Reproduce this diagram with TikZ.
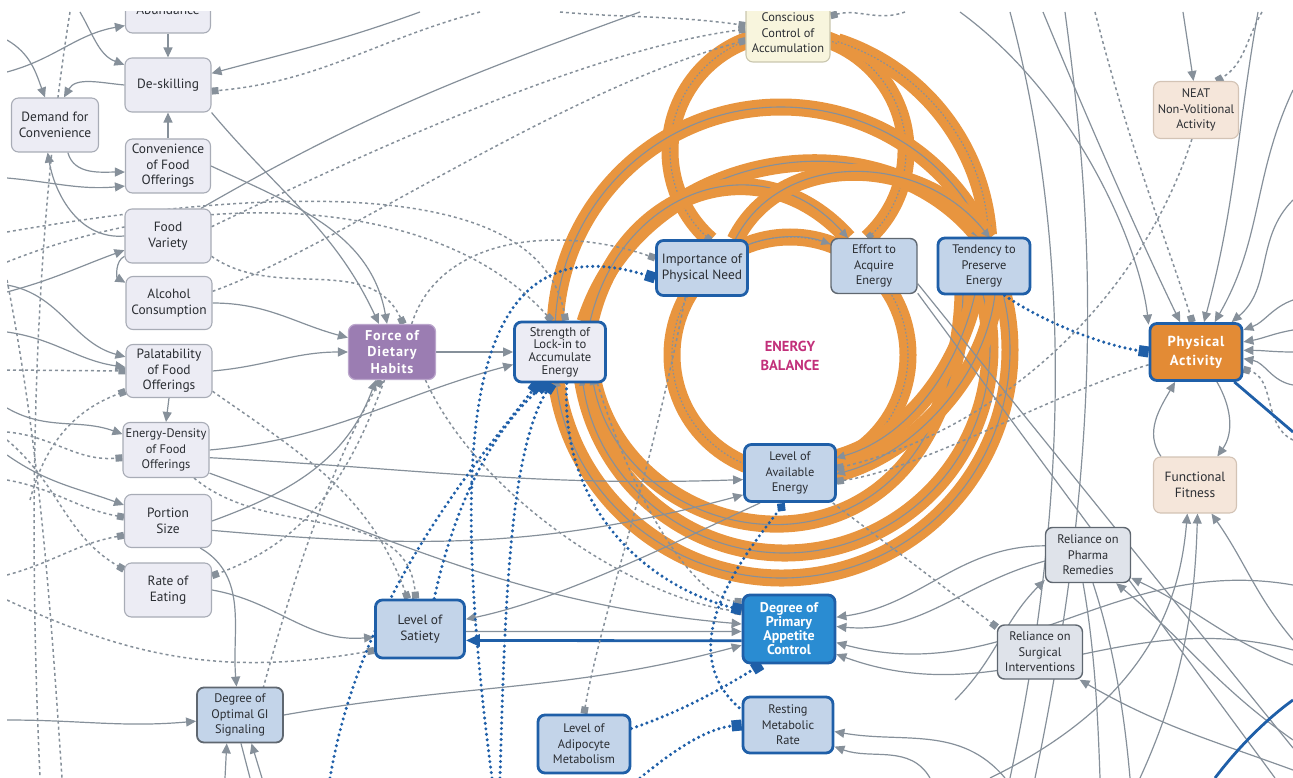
\documentclass[tikz,border=0pt]{standalone}
\usepackage{fontspec}
\setmainfont{PT Sans}
\usetikzlibrary{arrows.meta,calc}
\pgfdeclarelayer{bandlayer}
\pgfdeclarelayer{connlayer}
\pgfsetlayers{bandlayer,connlayer,main}
\definecolor{cgray}{HTML}{86909A}
\definecolor{dgray}{HTML}{5F6770}
\definecolor{cblue}{HTML}{1F5FA8}
\definecolor{corange}{HTML}{E8953F}
\definecolor{lblue}{HTML}{C3D4E9}
\definecolor{lav}{HTML}{ECECF4}
\definecolor{lavb}{HTML}{A8ACB6}
\definecolor{purp}{HTML}{9B7DB2}
\definecolor{purpb}{HTML}{BBA6CC}
\definecolor{appb}{HTML}{2A8CD2}
\definecolor{porange}{HTML}{E38B35}
\definecolor{cream}{HTML}{F8F5DD}
\definecolor{creamb}{HTML}{C9C6AE}
\definecolor{peach}{HTML}{F5E6DA}
\definecolor{peachb}{HTML}{D3C3B5}
\definecolor{relg}{HTML}{DFE3EA}
\definecolor{magen}{HTML}{C2307A}
\definecolor{txt}{HTML}{2A2D32}
\newcommand\nf{\fontsize{13.4}{15.4}\selectfont}
\newcommand\nfn{\fontsize{12.4}{15.4}\selectfont}
\newcommand\nfs{\fontsize{12.6}{12.6}\selectfont}
\newcommand\nfb{\addfontfeature{LetterSpace=6}\bfseries\fontsize{14.2}{16.5}\selectfont}
\newcommand\nfbs{\bfseries\fontsize{14}{14}\selectfont}
\newcommand\orflow[2]{\draw[band] #2; \draw[bline,#1] #2;}
\tikzset{
 box/.style={rounded corners=7pt, align=center, inner sep=1pt, font=\nf, text=txt},
 sz/.style 2 args={minimum width=#1, minimum height=#2},
 lbox/.style={box, fill=lav, draw=lavb, line width=1.1pt},
 bbox/.style={box, fill=lblue, draw=cblue, line width=2.8pt},
 gbox/.style={box, fill=lblue, draw=dgray, line width=1.4pt},
 fbox/.style={box, fill=purp, draw=purpb, line width=1.2pt, font=\nfb, text=white},
 abox/.style={box, fill=appb, draw=cblue, line width=2.8pt, font=\nfbs, text=white},
 pbox/.style={box, fill=porange, draw=cblue, line width=2.8pt, font=\nfb, text=white},
 cbox/.style={box, fill=cream, draw=creamb, line width=1.1pt},
 kbox/.style={box, fill=peach, draw=peachb, line width=1.1pt},
 rbox/.style={box, fill=relg, draw=dgray, line width=1.4pt},
 arr/.style={draw=cgray, line width=1.2pt, -{Triangle[length=10pt,width=9pt]}},
 ln/.style={draw=cgray, line width=1.2pt},
 dsh/.style={draw=cgray, line width=1.5pt, dash pattern=on 3pt off 3pt, -{Square[length=7pt,width=7pt]}},
 dln/.style={draw=cgray, line width=1.5pt, dash pattern=on 3pt off 3pt},
 bdot/.style={draw=cblue, line width=3.4pt, dash pattern=on 0pt off 5.5pt, line cap=round, -{Square[length=10pt,width=11pt]}},
 bsolid/.style={draw=cblue, line width=2.8pt},
 band/.style={draw=corange, line width=17pt},
 bline/.style={draw=cgray, line width=1.1pt},
 tri/.style={-{Triangle[length=9pt,width=8pt]}},
 rtri/.style={{Triangle[length=9pt,width=8pt]}-},
 dots/.style={dash pattern=on 1.6pt off 2pt},
}
\begin{document}
\begin{tikzpicture}[x=1pt,y=1pt]
\useasboundingbox (0,0) rectangle (1293,-778);
% ---------------- nodes ----------------
\begin{scope}
\clip (7,-12) rectangle (1293,-778);
\node[lbox,sz={85}{46}] (abund) at (168,-10) {Abundance};
\node[lbox,sz={86}{54}] (deskill) at (168,-85) {De-skilling};
\node[lbox,sz={87}{54}] (demand) at (55,-125) {Demand for\\Convenience};
\node[lbox,sz={85}{54}] (conven) at (168,-166) {Convenience\\of Food\\Offerings};
\node[lbox,sz={86}{54}] (variety) at (168,-236) {Food\\Variety};
\node[lbox,sz={86}{53}] (alcohol) at (169,-303) {Alcohol\\Consumption};
\node[lbox,sz={86}{53}] (palat) at (169,-371) {Palatability\\of Food\\Offerings};
\node[lbox,sz={86}{55},font=\nfn] (edens) at (166,-450) {Energy-Density\\of Food\\Offerings};
\node[lbox,sz={87}{53}] (portion) at (168,-521) {Portion\\Size};
\node[lbox,sz={87}{54}] (rate) at (168,-590) {Rate of\\Eating};
\node[gbox,sz={86}{55},line width=1.8pt,font=\nfn] (gi) at (240,-715) {Degree of\\Optimal GI\\Signaling};
\node[fbox,sz={87}{55}] (force) at (392,-352) {Force of\\Dietary\\Habits};
\node[bbox,fill=lav,sz={91}{60},font=\nfs] (lockin) at (560,-352) {Strength of\\Lock-in to\\Accumulate\\Energy};
\node[cbox,sz={84}{58},font=\nfn] (conscious) at (788,-33) {Conscious\\Control of\\Accumulation};
\node[bbox,sz={91}{55}] (importance) at (702,-268) {Importance of\\Physical Need};
\node[gbox,sz={86}{55},font=\nfn] (effort) at (874,-266) {Effort to\\Acquire\\Energy};
\node[bbox,sz={92}{56},font=\nfn] (tendency) at (984,-266) {Tendency to\\Preserve\\Energy};
\node[kbox,sz={85}{57},font=\nfn] (neat) at (1196,-110) {NEAT\\Non-Volitional\\Activity};
\node[pbox,sz={92}{57},font=\addfontfeature{LetterSpace=6}\bfseries\fontsize{14.5}{19}\selectfont] (physical) at (1196,-352) {Physical\\Activity};
\node[kbox,sz={83}{56}] (fitness) at (1195,-485) {Functional\\Fitness};
\node[rbox,sz={85}{55},font=\nfn] (pharma) at (1088,-555) {Reliance on\\Pharma\\Remedies};
\node[rbox,sz={85}{54},font=\nfn] (surgical) at (1040,-652) {Reliance on\\Surgical\\Interventions};
\node[bbox,sz={89}{58}] (satiety) at (420,-629) {Level of\\Satiety};
\node[abox,sz={92}{68}] (appetite) at (789,-629) {Degree of\\Primary\\Appetite\\Control};
\node[bbox,sz={90}{56},font=\nfn] (resting) at (788,-725) {Resting\\Metabolic\\Rate};
\node[bbox,sz={92}{58},font=\nfn] (adipocyte) at (584,-744) {Level of\\Adipocyte\\Metabolism};
\node[bbox,sz={91}{57},font=\nfn] (available) at (790,-473) {Level of\\Available\\Energy};
\node[align=center,text=magen,font=\bfseries\fontsize{14.5}{19}\selectfont] (eb) at (790,-356) {ENERGY\\BALANCE};
\end{scope}
% ---------------- orange flows ----------------
\begin{pgfonlayer}{bandlayer}
\begin{scope}
\clip (7,-12) rectangle (1293,-778);
\orflow{dots}{(790,-355) circle[radius=118]}
\draw[bline,tri] ($(790,-355)+(111:118)$) arc[start angle=111,end angle=70,radius=118];
\orflow{dots,-{Square[length=6pt,width=6pt]}}{($(788,-151)+(98:118)$) arc[start angle=98,end angle=229,radius=118]}
\orflow{dots,-{Square[length=6pt,width=6pt]}}{($(788,-151)+(82:118)$) arc[start angle=82,end angle=-47.5,radius=118]}
\orflow{dots,tri}{($(770,-250)+(72:219)$) arc[start angle=72,end angle=4,radius=219]}
\orflow{tri}{($(781,-333)+(178:226)$) arc[start angle=178,end angle=27,radius=226]}
\orflow{tri}{(585,-322) .. controls (640,-150) and (880,-110) .. (980,-238)}
\orflow{tri}{(590,-322) .. controls (620,-190) and (760,-140) .. (848,-238)}
\orflow{tri}{(735,-240) .. controls (780,-150) and (920,-150) .. (990,-238)}
\orflow{rtri}{($(782,-350)+(-173:228)$) arc[start angle=-173,end angle=14,radius=228]}
\orflow{rtri}{($(785,-348)+(-172:205)$) arc[start angle=-172,end angle=20,radius=205]}
\orflow{rtri}{(592,-376) .. controls (620,-525) and (830,-585) .. (920,-445) .. controls (950,-398) and (962,-340) .. (963,-294)}
\orflow{rtri}{(836,-458) .. controls (900,-440) and (955,-380) .. (975,-294)}
\orflow{rtri}{(836,-474) .. controls (910,-455) and (985,-380) .. (995,-294)}
\end{scope}
\end{pgfonlayer}
% ---------------- connectors ----------------
\begin{pgfonlayer}{connlayer}
\begin{scope}
\clip (7,-12) rectangle (1293,-778);
% free ends
\coordinate (L1) at (7,-178);   \coordinate (L2) at (7,-292);
\coordinate (L3) at (7,-285);   \coordinate (L4) at (7,-332);
\coordinate (L5) at (7,-408);   \coordinate (L6) at (7,-455);
\coordinate (L7) at (7,-720);   \coordinate (L8) at (7,-40);
\coordinate (L9) at (7,-72);    \coordinate (L11) at (7,-370);
\coordinate (L12) at (30,-500); \coordinate (L13) at (7,-432);
\coordinate (L14) at (7,-480);  \coordinate (L15) at (7,-575);
\coordinate (L16) at (7,-440);  \coordinate (L17) at (7,-600);
\coordinate (L18) at (7,-262);  \coordinate (L19) at (7,-232);
\coordinate (L20) at (7,-280);
\coordinate (T1) at (80,-12);   \coordinate (T2) at (1183,-12);
\coordinate (T3) at (1258,-12); \coordinate (T4) at (1043,-12);
\coordinate (T5) at (1065,-12); \coordinate (T6) at (960,-12);
\coordinate (T7) at (640,-12);  \coordinate (T8) at (420,-12);
\coordinate (T9) at (1010,-12); \coordinate (T10) at (70,-12);
\coordinate (T12) at (480,-12); \coordinate (T13) at (1262,-12);
\coordinate (T14) at (1095,-12);\coordinate (T15) at (905,-12);
\coordinate (T16) at (560,-12);
\coordinate (B1) at (225,-778); \coordinate (B2) at (262,-778);
\coordinate (B3) at (250,-778); \coordinate (B4) at (1035,-778);
\coordinate (B6) at (990,-778); \coordinate (B7) at (1140,-778);
\coordinate (B9) at (1100,-778);\coordinate (B10) at (1130,-778);
\coordinate (B11) at (1005,-778);\coordinate (B12) at (1010,-778);
\coordinate (B13) at (40,-778); \coordinate (B14) at (62,-778);
\coordinate (B15) at (260,-700);\coordinate (B17) at (930,-778);
\coordinate (B20) at (492,-778);\coordinate (B21) at (330,-778);
\coordinate (B22) at (500,-778);\coordinate (B23) at (640,-778);
\coordinate (B24) at (1215,-778);
\coordinate (R1) at (1293,-585); \coordinate (R2) at (1293,-650);
\coordinate (R3) at (1293,-748); \coordinate (R4) at (1275,-778);
\coordinate (R5) at (1293,-300); \coordinate (R6) at (1293,-330);
\coordinate (R7) at (1293,-352); \coordinate (R8) at (1293,-385);
\coordinate (R9) at (1293,-200); \coordinate (R10) at (1293,-90);
\coordinate (R11) at (1293,-640);\coordinate (R12) at (1293,-665);
\coordinate (R13) at (1293,-740);\coordinate (R14) at (1293,-770);
\coordinate (R17) at (1293,-440);\coordinate (R19) at (1293,-432);
\coordinate (R20) at (1293,-700);\coordinate (B8) at (955,-700);
% gray solid connectors
\draw[arr] (abund) -- (deskill);
\draw[arr] (deskill.west) to[out=175,in=60] (demand.72);
\draw[arr] (conven.north) -- (deskill.south);
\draw[arr] (demand.295) to[out=-75,in=180] (conven.188);
\draw[arr] (L1) to[out=-5,in=185] (conven.205);
\draw[arr] (variety.west) to[out=185,in=-80] (demand.255);
\draw[arr] (variety.205) to[out=205,in=150] (alcohol.155);
\draw[arr] (L2) to[out=15,in=200] (variety.198);
\draw[arr] (L8) to[out=-30,in=110] (demand.110);
\draw[arr] (L9) to[out=15,in=190] (abund.200);
\draw[arr] (T1) to[out=-60,in=160] (deskill.155);
\draw[arr] (T8) to[out=200,in=15] (deskill.15);
\draw[ln] (variety.40) to[out=30,in=200] (T7);
\draw[arr] (deskill.south east) to[out=-50,in=115] (force.115);
\draw[arr] (conven.east) to[out=-25,in=100] (force.100);
\draw[arr] (alcohol.east) to[out=0,in=165] (force.162);
\draw[arr] (palat.east) to[out=5,in=180] (force.west);
\draw[arr] (L3) to[out=-10,in=165] (palat.162);
\draw[arr] (L4) to[out=-8,in=172] (palat.175);
\draw[arr] (L5) to[out=-30,in=160] (edens.160);
\draw[arr] (L6) to[out=-35,in=160] (portion.160);
\draw[arr] (palat.south) -- (edens.north);
\draw[arr] (edens.east) to[out=5,in=195] (lockin.195);
\draw[arr] (edens.-10) to[out=-3,in=182] (available.188);
\draw[arr] (edens.-28) to[out=-20,in=175] (appetite.174);
\draw[arr] (portion.east) to[out=20,in=-110] (force.240);
\draw[arr] (portion.-12) to[out=-5,in=195] (available.205);
\draw[arr] (portion.-40) to[out=-30,in=95] (gi.97);
\draw[arr] (rate.east) to[out=-10,in=185] (satiety.190);
\draw[arr] (gi.east) to[out=10,in=195] (appetite.199);
\draw[arr] (L7) to[out=0,in=185] (gi.188);
\draw[arr] (B1) -- (gi.245);
\draw[arr] (B2) -- (gi.292);
\draw[ln] (gi.272) -- (B3);
\draw[arr] (force.east) -- (lockin.west);
\draw[arr] (available.225) .. controls (680,-540) and (560,-600) .. (satiety.12);
\draw[arr] (satiety.-3) -- (appetite.183);
\draw[bsolid,-{Triangle[length=14pt,width=12pt]}] (appetite.194) -- (satiety.-14);
\draw[arr] (pharma.168) to[out=180,in=8] (appetite.14);
\draw[arr] (pharma.188) to[out=195,in=-5] (appetite.3);
\draw[arr] (R1) to[out=170,in=-15] (appetite.-16);
\draw[arr] (R2) to[out=165,in=-20] (appetite.-28);
\draw[ln] (effort.-22) -- (R3);
\draw[ln] (effort.-32) -- (R4);
\draw[arr] (fitness.140) to[out=125,in=-120] (physical.235);
\draw[arr] (physical.-55) to[out=-60,in=55] (fitness.52);
\draw[arr] (T2) -- (neat.95);
\draw[arr] (R5) to[out=200,in=20] (physical.25);
\draw[arr] (R6) to[out=190,in=10] (physical.12);
\draw[arr] (R7) to[out=180,in=0] (physical.2);
\draw[arr] (R8) to[out=170,in=-10] (physical.-8);
\draw[arr] (R9) to[out=225,in=40] (physical.40);
\draw[arr] (R10) to[out=245,in=60] (physical.58);
\draw[arr] (T3) to[out=-100,in=75] (physical.75);
\draw[arr] (T4) .. controls (1100,-150) and (1150,-260) .. (physical.118);
\draw[arr] (T6) .. controls (1080,-100) and (1140,-250) .. (physical.150);
\draw[ln] (T5) .. controls (1090,-200) and (1110,-420) .. (B4);
\draw[ln] (T9) .. controls (1060,-200) and (1080,-450) .. (B12);
\draw[arr] (B6) .. controls (1150,-700) and (1180,-600) .. (fitness.-105);
\draw[arr] (B7) .. controls (1185,-680) and (1195,-600) .. (fitness.-85);
\draw[arr] (R11) to[out=130,in=-55] (fitness.-60);
\draw[arr] (B8) to[out=45,in=-135] (pharma.-150);
\draw[arr] (R12) to[out=160,in=-25] (pharma.-28);
\draw[arr] (R13) to[out=145,in=-40] (pharma.-45);
\draw[ln] (pharma.-100) .. controls (1095,-650) and (1098,-720) .. (B9);
\draw[ln] (pharma.-80) .. controls (1115,-650) and (1125,-720) .. (B10);
\draw[arr] (R14) to[out=160,in=-30] (surgical.-35);
\draw[arr] (B11) to[out=130,in=-10] (resting.-8);
\draw[arr] (B17) to[out=120,in=-20] (resting.-25);
% gray dashed connectors
\draw[dln] (T10) .. controls (40,-200) and (25,-450) .. (B13);
\draw[dln] (L20) .. controls (40,-450) and (50,-600) .. (B14);
\draw[dsh] (T12) to[out=195,in=5] (deskill.-8);
\draw[dsh] (L11) -- (palat.west);
\draw[dsh] (L12) to[out=75,in=200] (palat.205);
\draw[dsh] (L13) to[out=-5,in=185] (edens.190);
\draw[dsh] (L14) to[out=-10,in=170] (portion.175);
\draw[dsh] (L15) to[out=15,in=190] (portion.198);
\draw[dsh] (L16) to[out=-40,in=150] (rate.155);
\draw[dsh] (force.-105) to[out=-110,in=20] (rate.18);
\draw[dsh] (L17) to[out=-25,in=190] (satiety.205);
\draw[dsh] (palat.-25) to[out=-35,in=110] (satiety.112);
\draw[dsh] (edens.-45) to[out=-40,in=95] (satiety.98);
\draw[dsh] (alcohol.15) .. controls (330,-250) and (560,-90) .. (conscious.190);
\draw[dsh] (variety.12) .. controls (330,-170) and (580,-50) .. (conscious.175);
\draw[dsh] (variety.-25) to[out=-35,in=115] (force.68);
\draw[dsh] (L18) .. controls (200,-185) and (440,-195) .. (lockin.105);
\draw[dsh] (L19) .. controls (250,-190) and (540,-170) .. (lockin.80);
\draw[dsh] (force.55) .. controls (440,-235) and (560,-225) .. (importance.168);
\draw[dsh] (B15) .. controls (300,-550) and (340,-450) .. (force.248);
\draw[dsh] (physical.195) .. controls (1050,-395) and (920,-470) .. (available.-10);
\draw[dsh] (neat.262) .. controls (1140,-300) and (1000,-430) .. (available.6);
\draw[dsh] (available.-35) -- (surgical.150);
\draw[dsh] (importance.-120) .. controls (650,-480) and (600,-620) .. (adipocyte.north);
\draw[dsh] (force.-40) .. controls (480,-500) and (640,-600) .. (appetite.160);
\draw[dsh] (lockin.-40) .. controls (640,-520) and (700,-600) .. (appetite.150);
\draw[dsh] (T13) to[out=-120,in=30] (neat.55);
\draw[dsh] (T14) .. controls (1130,-150) and (1170,-250) .. (physical.97);
\draw[dsh] (R17) to[out=155,in=-15] (physical.-20);
\draw[dsh] (T15) to[out=200,in=15] (conscious.22);
\draw[dsh] (T16) to[out=-5,in=172] (conscious.170);
% blue dotted connectors
\draw[bdot] (satiety.65) .. controls (460,-480) and (505,-420) .. (lockin.-115);
\draw[bdot] (B20) .. controls (445,-420) and (470,-220) .. (importance.192);
\draw[bdot] (B21) .. controls (360,-600) and (470,-470) .. (lockin.-125);
\draw[bdot] (B22) .. controls (505,-600) and (510,-450) .. (lockin.-105);
\draw[bdot] (lockin.-78) .. controls (560,-520) and (660,-590) .. (appetite.158);
\draw[bdot,{Diamond[length=11pt,width=11pt]}-] (available.-100) .. controls (740,-560) and (670,-650) .. (resting.162);
\draw[bdot] (adipocyte.18) .. controls (680,-712) and (720,-690) .. (appetite.-128);
\draw[bdot] (B23) .. controls (680,-745) and (710,-728) .. (resting.west);
\draw[bdot] (tendency.-55) .. controls (1040,-320) and (1100,-345) .. (physical.west);
\draw[bsolid] (physical.-38) -- (R19);
\draw[bsolid] (B24) .. controls (1240,-745) and (1268,-718) .. (R20);
\end{scope}
\end{pgfonlayer}
\end{tikzpicture}
\end{document}
